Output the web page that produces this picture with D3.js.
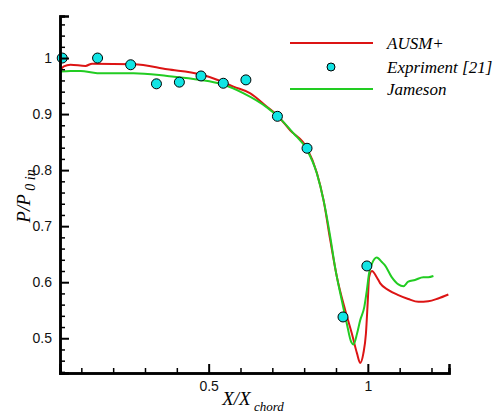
<!DOCTYPE html>
<html>
<head>
<meta charset="utf-8">
<script src="https://cdn.jsdelivr.net/npm/d3@7"></script>
<style>
html,body{margin:0;padding:0;background:#fff;}
svg{display:block;}
</style>
</head>
<body>
<svg id="chart" width="502" height="414"></svg>
<script>
// ---- Data ----
const seriesNames = ["AUSM+", "Expriment [21]", "Jameson"];

const ausmX = [0.035,0.045,0.066,0.113,0.134,0.265,0.370,0.474,0.537,0.578,0.631,0.683,0.715,0.756,0.809,0.840,0.861,0.882,0.903,0.929,0.950,0.966,0.976,0.986,0.994,1.000,1.004,1.013,1.028,1.039,1.065,1.096,1.127,1.159,1.190,1.221,1.253];
const ausmY = [0.979,0.985,0.988,0.986,0.990,0.989,0.980,0.971,0.959,0.949,0.937,0.913,0.898,0.871,0.839,0.795,0.746,0.675,0.609,0.550,0.508,0.473,0.456,0.473,0.508,0.568,0.609,0.620,0.609,0.598,0.586,0.577,0.570,0.565,0.566,0.571,0.578];

const jamesonX = [0.035,0.066,0.098,0.150,0.264,0.370,0.474,0.537,0.610,0.683,0.719,0.766,0.809,0.840,0.861,0.882,0.897,0.918,0.934,0.948,0.955,0.966,0.976,0.989,0.997,1.004,1.013,1.028,1.044,1.054,1.075,1.096,1.112,1.127,1.148,1.174,1.190,1.206];
const jamesonY = [0.976,0.977,0.977,0.973,0.973,0.968,0.961,0.954,0.937,0.912,0.895,0.866,0.836,0.794,0.746,0.681,0.627,0.568,0.526,0.493,0.489,0.508,0.532,0.556,0.586,0.616,0.633,0.644,0.636,0.630,0.609,0.596,0.593,0.601,0.604,0.609,0.609,0.611];

const expX = [0.040,0.151,0.255,0.336,0.408,0.476,0.546,0.617,0.716,0.809,0.922,0.997];
const expY = [1.000,1.000,0.988,0.954,0.957,0.968,0.955,0.961,0.896,0.839,0.538,0.629];

const xMajorTicks = [0.5, 1];
const xTickLabels = ["0.5", "1"];
const xMinorTicks = [0.1,0.2,0.3,0.4,0.6,0.7,0.8,0.9,1.1,1.2];
const yMajorTicks = [0.5,0.6,0.7,0.8,0.9,1];
const yTickLabels = ["0.5","0.6","0.7","0.8","0.9","1"];
const yMinorTicks = [0.44,0.46,0.48,0.52,0.54,0.56,0.58,0.62,0.64,0.66,0.68,0.72,0.74,0.76,0.78,0.82,0.84,0.86,0.88,0.92,0.94,0.96,0.98,1.02,1.04,1.06];

// ---- Layout ----
const svg = d3.select("#chart");
const x = d3.scaleLinear().domain([0.033, 1.255]).range([60, 449]);
const y = d3.scaleLinear().domain([0.438, 1.075]).range([373, 16]);

const RED = "#dc1414", GREEN = "#22cc22", CYAN = "#12e4e4";

// curves
const line = d3.line().x(d => x(d[0])).y(d => y(d[1])).curve(d3.curveMonotoneX);
const ausm = ausmX.map((v,i) => [v, ausmY[i]]);
const jam = jamesonX.map((v,i) => [v, jamesonY[i]]);

svg.append("path").datum(ausm).attr("d", line)
  .attr("fill","none").attr("stroke",RED).attr("stroke-width",2);
svg.append("path").datum(jam).attr("d", line)
  .attr("fill","none").attr("stroke",GREEN).attr("stroke-width",2);

// experiment markers
svg.selectAll("circle.exp").data(expX.map((v,i)=>[v,expY[i]])).enter()
  .append("circle").attr("class","exp")
  .attr("cx", d => x(d[0])).attr("cy", d => y(d[1])).attr("r", 5)
  .attr("fill", CYAN).attr("stroke","#000").attr("stroke-width",1);

// ---- Axes ----
const gx = svg.append("g").attr("transform","translate(0,373)");
gx.call(d3.axisBottom(x).tickValues(xMinorTicks).tickSize(-5).tickFormat(""));
gx.selectAll(".tick line").attr("stroke-width",1.5);
const gx2 = svg.append("g").attr("transform","translate(0,373)");
gx2.call(d3.axisBottom(x).tickValues(xMajorTicks).tickSize(-9).tickPadding(8)
  .tickFormat((d,i) => xTickLabels[i]));
gx2.selectAll(".tick line").attr("stroke-width",2);
gx2.selectAll("text").attr("font-family","'Liberation Sans', Arial, sans-serif").attr("font-size",14).attr("fill","#111");

const gy = svg.append("g").attr("transform","translate(60,0)");
gy.call(d3.axisLeft(y).tickValues(yMinorTicks).tickSize(-5).tickFormat(""));
gy.selectAll(".tick line").attr("stroke-width",1.5);
const gy2 = svg.append("g").attr("transform","translate(60,0)");
gy2.call(d3.axisLeft(y).tickValues(yMajorTicks).tickSize(-9).tickPadding(8)
  .tickFormat((d,i) => yTickLabels[i]));
gy2.selectAll(".tick line").attr("stroke-width",2);
gy2.selectAll("text").attr("font-family","'Liberation Sans', Arial, sans-serif").attr("font-size",14).attr("fill","#111");

svg.selectAll(".domain").attr("stroke","#000").attr("stroke-width",2.5);
svg.selectAll("g .tick line").attr("stroke","#000");

// ---- Axis titles ----
const xt = svg.append("text").attr("x", 253).attr("y", 405)
  .attr("text-anchor","middle")
  .attr("font-family","'Liberation Serif', 'Times New Roman', serif")
  .attr("font-style","italic").attr("fill","#000");
xt.append("tspan").attr("font-size",19).text("X/X");
xt.append("tspan").attr("font-size",13).attr("dy",6).text(" chord");

const yt = svg.append("text").attr("transform","translate(30,196) rotate(-90)")
  .attr("text-anchor","middle")
  .attr("font-family","'Liberation Serif', 'Times New Roman', serif")
  .attr("font-style","italic").attr("fill","#000");
yt.append("tspan").attr("font-size",19).text("P/P");
yt.append("tspan").attr("font-size",14).attr("dy",5).text(" 0 in");

// ---- Legend ----
const lg = svg.append("g");
const legendY = [43, 67, 89];
lg.append("line").attr("x1",290).attr("x2",373).attr("y1",legendY[0]).attr("y2",legendY[0])
  .attr("stroke",RED).attr("stroke-width",2);
lg.append("circle").attr("cx",331).attr("cy",legendY[1]).attr("r",4)
  .attr("fill",CYAN).attr("stroke","#000").attr("stroke-width",1);
lg.append("line").attr("x1",290).attr("x2",373).attr("y1",legendY[2]).attr("y2",legendY[2])
  .attr("stroke",GREEN).attr("stroke-width",2);
seriesNames.forEach((n,i) => {
  lg.append("text").attr("x",387).attr("y",legendY[i]+6)
    .attr("font-family","'Liberation Serif', 'Times New Roman', serif")
    .attr("font-style","italic").attr("font-size",17).attr("fill","#000").text(n);
});
</script>
</body>
</html>
